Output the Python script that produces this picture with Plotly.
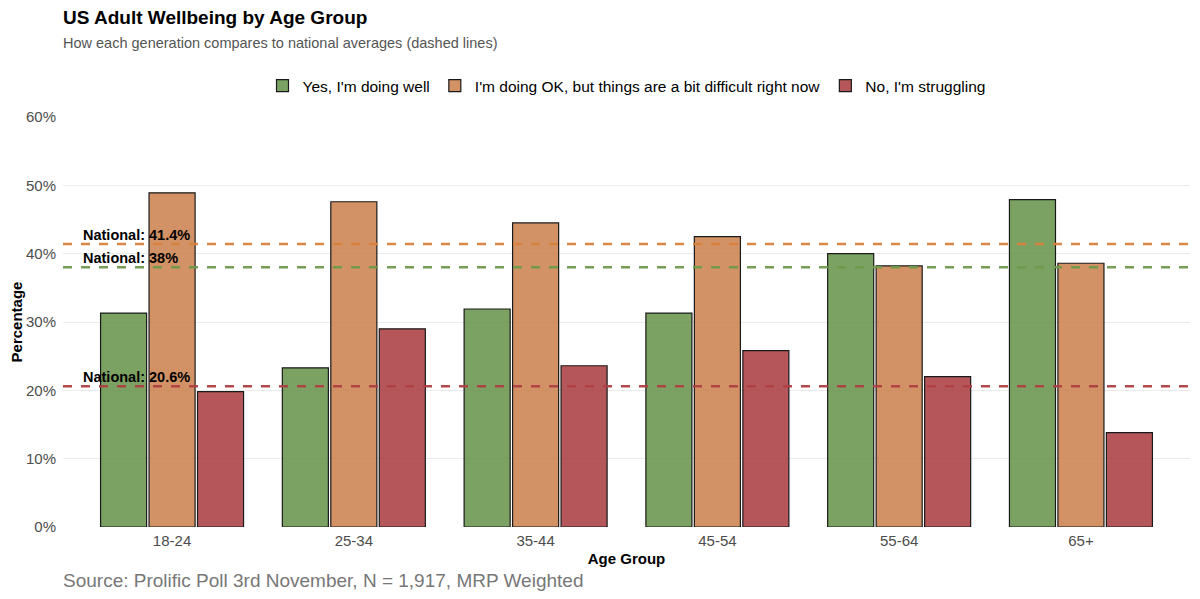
import plotly.graph_objects as go

age_groups = ["18-24", "25-34", "35-44", "45-54", "55-64", "65+"]
series_names = ["Yes, I'm doing well",
                "I'm doing OK, but things are a bit difficult right now",
                "No, I'm struggling"]
doing_well = [31.3, 23.3, 31.9, 31.3, 40.0, 47.9]
doing_ok = [48.9, 47.6, 44.5, 42.5, 38.2, 38.6]
struggling = [19.8, 29.0, 23.6, 25.8, 22.0, 13.8]
national = [38.0, 41.4, 20.6]
national_labels = ["National: 38%", "National: 41.4%", "National: 20.6%"]

bar_colors = ["rgba(100,146,70,0.85)", "rgba(203,127,75,0.85)", "rgba(168,58,61,0.85)"]
line_colors = ["#6E9A4B", "#D9823F", "#B04043"]
values = [doing_well, doing_ok, struggling]

FONT = "Liberation Sans, Arial, Helvetica, sans-serif"

# figure is displayed with an 8px page offset; plot area in figure pixels
W, H = 1192, 591
ML, MR, MT, MB = 55, 10, 109, 72
PH = H - MT - MB
PW = W - ML - MR


def py(ypix):
    return (H - MB - ypix) / PH


fig = go.Figure()
for name, vals, col in zip(series_names, values, bar_colors):
    fig.add_trace(go.Bar(
        x=age_groups, y=vals, name=name,
        marker=dict(color=col, line=dict(color="#1a1a1a", width=1.2)),
        hovertemplate="%{x}: %{y:.1f}%<extra>" + name + "</extra>",
    ))

for val, lab, col in zip(national, national_labels, line_colors):
    fig.add_shape(type="line", xref="paper", x0=0, x1=1, yref="y", y0=val, y1=val,
                  line=dict(color=col, width=2.5, dash="9px,9px"), layer="above", opacity=0.95)
    fig.add_annotation(x=-0.5, y=val, xref="x", yref="y", text="<b>" + lab + "</b>",
                       showarrow=False, xanchor="left", yanchor="bottom", yshift=-1,
                       font=dict(family=FONT, size=14.5, color="#000000"))

fig.update_layout(
    width=W, height=H,
    paper_bgcolor="white", plot_bgcolor="white",
    font=dict(family=FONT, color="#4d4d4d"),
    margin=dict(l=ML, r=MR, t=MT, b=MB, autoexpand=False),
    barmode="group", bargap=0.2, bargroupgap=0.05,
    legend=dict(orientation="h", x=0.5, xanchor="center", y=py(78), yanchor="middle",
                font=dict(size=15.5, color="#000000"), traceorder="normal", itemwidth=30),
    showlegend=True,
)
fig.add_annotation(text="<b>US Adult Wellbeing by Age Group</b>", xref="paper", yref="paper",
                   x=-2 / PW, y=py(9), xanchor="left", yanchor="middle", showarrow=False,
                   font=dict(family=FONT, size=19, color="#000000"))
fig.add_annotation(text="How each generation compares to national averages (dashed lines)",
                   xref="paper", yref="paper", x=-2 / PW, y=py(35), xanchor="left", yanchor="middle",
                   showarrow=False, font=dict(family=FONT, size=14.5, color="#555555"))
fig.add_annotation(text="Source: Prolific Poll 3rd November, N = 1,917, MRP Weighted",
                   xref="paper", yref="paper", x=-2 / PW, y=py(572), xanchor="left", yanchor="middle",
                   showarrow=False, font=dict(family=FONT, size=19, color="#777777"))

fig.update_xaxes(title=dict(text="<b>Age Group</b>", font=dict(size=15, color="#000000"), standoff=5),
                 tickfont=dict(size=15, color="#4d4d4d"), showgrid=False, zeroline=False,
                 showline=False, ticks="", range=[-0.6, 5.6], ticklabelstandoff=3)
fig.update_yaxes(title=dict(text="<b>Percentage</b>", font=dict(size=15, color="#000000"), standoff=1),
                 tickfont=dict(size=15, color="#4d4d4d"), range=[0, 60], dtick=10,
                 ticksuffix="%", showgrid=True, gridcolor="#EBEBEB", gridwidth=1,
                 zeroline=False, showline=False, ticks="", ticklabelstandoff=6)

fig.write_html("out.html")
